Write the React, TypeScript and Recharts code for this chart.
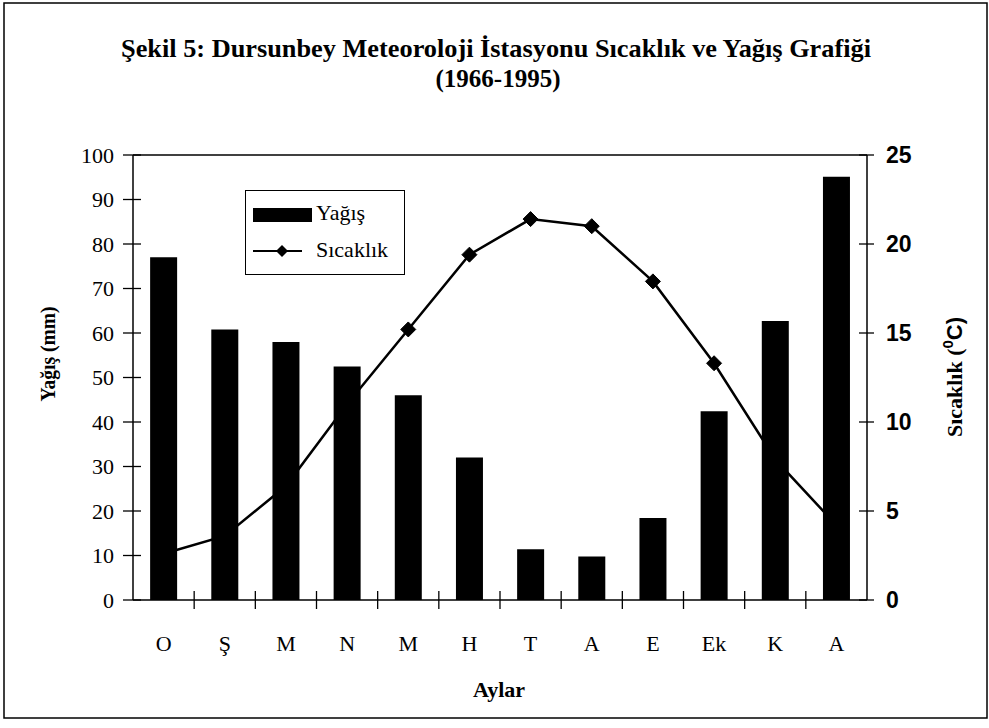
import React from 'react';
import {
  ComposedChart,
  Bar,
  Line,
  XAxis,
  YAxis,
  ReferenceLine,
} from 'recharts';

const months = ['O', 'Ş', 'M', 'N', 'M', 'H', 'T', 'A', 'E', 'Ek', 'K', 'A'];
const yagis = [77.0, 60.8, 58.0, 52.5, 46.0, 32.0, 11.4, 9.8, 18.4, 42.4, 62.7, 95.1];
const sicaklik = [2.6, 3.6, 6.4, 11.0, 15.2, 19.4, 21.4, 21.0, 17.9, 13.3, 7.9, 4.2];
const leftTicks = [0, 10, 20, 30, 40, 50, 60, 70, 80, 90, 100];
const rightTicks = [0, 5, 10, 15, 20, 25];

const data = months.map((m, i) => ({ key: i, ay: m, yagis: yagis[i], sicaklik: sicaklik[i] }));

const W = 989;
const H = 728;
const PLOT_LEFT = 133;
const PLOT_RIGHT = 867;
const BAND = (PLOT_RIGHT - PLOT_LEFT) / months.length;

const serif = '"Liberation Serif", "Times New Roman", serif';
const sans = '"Liberation Sans", Arial, sans-serif';

const LeftTick = (props: any) => {
  const { x, y, payload } = props;
  return (
    <g>
      <line x1={x - 10} x2={x + 8} y1={y} y2={y} stroke="#000" strokeWidth={1.3} />
      <text x={x - 19} y={y} dy="0.35em" textAnchor="end" fontFamily={serif} fontSize={22} fill="#000">
        {payload.value}
      </text>
    </g>
  );
};

const RightTick = (props: any) => {
  const { x, y, payload } = props;
  return (
    <g>
      <line x1={x - 8} x2={x + 7} y1={y} y2={y} stroke="#000" strokeWidth={1.3} />
      <text x={x + 19} y={y} dy="0.36em" textAnchor="start" fontFamily={sans} fontWeight="bold" fontSize={23} fill="#000">
        {payload.value}
      </text>
    </g>
  );
};

const XTick = (props: any) => {
  const { x, y, payload, index } = props;
  const label = months[payload.value] ?? '';
  return (
    <g>
      {index < months.length - 1 && (
        <line x1={x + BAND / 2} x2={x + BAND / 2} y1={y - 9} y2={y + 9} stroke="#000" strokeWidth={1.3} />
      )}
      <text x={x} y={y + 51} textAnchor="middle" fontFamily={serif} fontSize={22} fill="#000">
        {label}
      </text>
    </g>
  );
};

const Diamond = (props: any) => {
  const { cx, cy, index } = props;
  if (cx == null || cy == null) return <g key={`d-${index}`} />;
  const r = 7.5;
  return (
    <path
      key={`d-${index}`}
      d={`M${cx},${cy - r} L${cx + r},${cy} L${cx},${cy + r} L${cx - r},${cy} Z`}
      fill="#000"
      stroke="#000"
    />
  );
};

const LegendBox = () => (
  <div
    style={{
      position: 'absolute',
      left: 245,
      top: 190,
      width: 160,
      height: 85,
      border: '1px solid #000',
      boxSizing: 'border-box',
      background: '#fff',
      fontFamily: serif,
      fontSize: 22,
      color: '#000',
    }}
  >
    <div style={{ position: 'absolute', left: 7, top: 17, width: 59, height: 14, background: '#000' }} />
    <div style={{ position: 'absolute', left: 70, top: 9, lineHeight: '26px' }}>Yağış</div>
    <svg style={{ position: 'absolute', left: 0, top: 48 }} width={70} height={24}>
      <line x1={7} x2={56} y1={12} y2={12} stroke="#000" strokeWidth={2} />
      <path d="M36,6 L42,12 L36,18 L30,12 Z" fill="#000" />
    </svg>
    <div style={{ position: 'absolute', left: 70, top: 46, lineHeight: '26px' }}>Sıcaklık</div>
  </div>
);

export default function App() {
  return (
    <div style={{ position: 'absolute', left: 0, top: 0, width: W, height: H, background: '#fff' }}>
      <ComposedChart
        width={W}
        height={H}
        data={data}
        margin={{ top: 155, right: 0, bottom: 68, left: 0 }}
        barCategoryGap="28%"
      >
        <XAxis
          dataKey="key"
          xAxisId="x"
          height={60}
          axisLine={{ stroke: '#000', strokeWidth: 1.5 }}
          tickLine={false}
          tickSize={0}
          tickMargin={0}
          tick={<XTick />}
          interval={0}
        />
        <YAxis
          yAxisId="l"
          orientation="left"
          width={PLOT_LEFT}
          domain={[0, 100]}
          ticks={leftTicks}
          axisLine={{ stroke: '#000', strokeWidth: 1.5 }}
          tickLine={false}
          tickSize={0}
          tickMargin={0}
          tick={<LeftTick />}
          interval={0}
        />
        <YAxis
          yAxisId="r"
          orientation="right"
          width={W - PLOT_RIGHT}
          domain={[0, 25]}
          ticks={rightTicks}
          axisLine={{ stroke: '#000', strokeWidth: 1.5 }}
          tickLine={false}
          tickSize={0}
          tickMargin={0}
          tick={<RightTick />}
          interval={0}
        />
        <ReferenceLine yAxisId="l" xAxisId="x" y={100} stroke="#000" strokeWidth={1.5} />
        <Line
          xAxisId="x"
          yAxisId="r"
          dataKey="sicaklik"
          name="Sıcaklık"
          stroke="#000"
          strokeWidth={2.5}
          dot={<Diamond />}
          activeDot={false}
          isAnimationActive={false}
          zIndex={250}
        />
        <Bar
          xAxisId="x"
          yAxisId="l"
          dataKey="yagis"
          name="Yağış"
          fill="#000"
          isAnimationActive={false}
          zIndex={600}
        />
      </ComposedChart>
      <LegendBox />
      <svg
        width={W}
        height={H}
        style={{ position: 'absolute', left: 0, top: 0, pointerEvents: 'none' }}
      >
        <rect x={4} y={3} width={983} height={715} fill="none" stroke="#000" strokeWidth={1.5} />
        <text x={496} y={57} textAnchor="middle" fontFamily={serif} fontWeight="bold" fontSize={25} textLength={750} lengthAdjust="spacingAndGlyphs" fill="#000">
          Şekil 5: Dursunbey Meteoroloji İstasyonu Sıcaklık ve Yağış Grafiği
        </text>
        <text x={498} y={87} textAnchor="middle" fontFamily={serif} fontWeight="bold" fontSize={25} fill="#000">
          (1966-1995)
        </text>
        <text x={499} y={697} textAnchor="middle" fontFamily={serif} fontWeight="bold" fontSize={22} fill="#000">
          Aylar
        </text>
        <text
          x={55}
          y={354}
          transform="rotate(-90 55 354)"
          textAnchor="middle"
          fontFamily={serif}
          fontWeight="bold"
          fontSize={22}
          textLength={95}
          lengthAdjust="spacingAndGlyphs"
          fill="#000"
        >
          Yağış (mm)
        </text>
        <text
          x={962}
          y={377}
          transform="rotate(-90 962 377)"
          textAnchor="middle"
          fontFamily={serif}
          fontWeight="bold"
          fontSize={22}
          fill="#000"
        >
          Sıcaklık (
          <tspan fontFamily={sans} fontSize={15} dy={-9}>0</tspan>
          <tspan fontFamily={sans} dy={9}>C)</tspan>
        </text>
      </svg>
    </div>
  );
}
